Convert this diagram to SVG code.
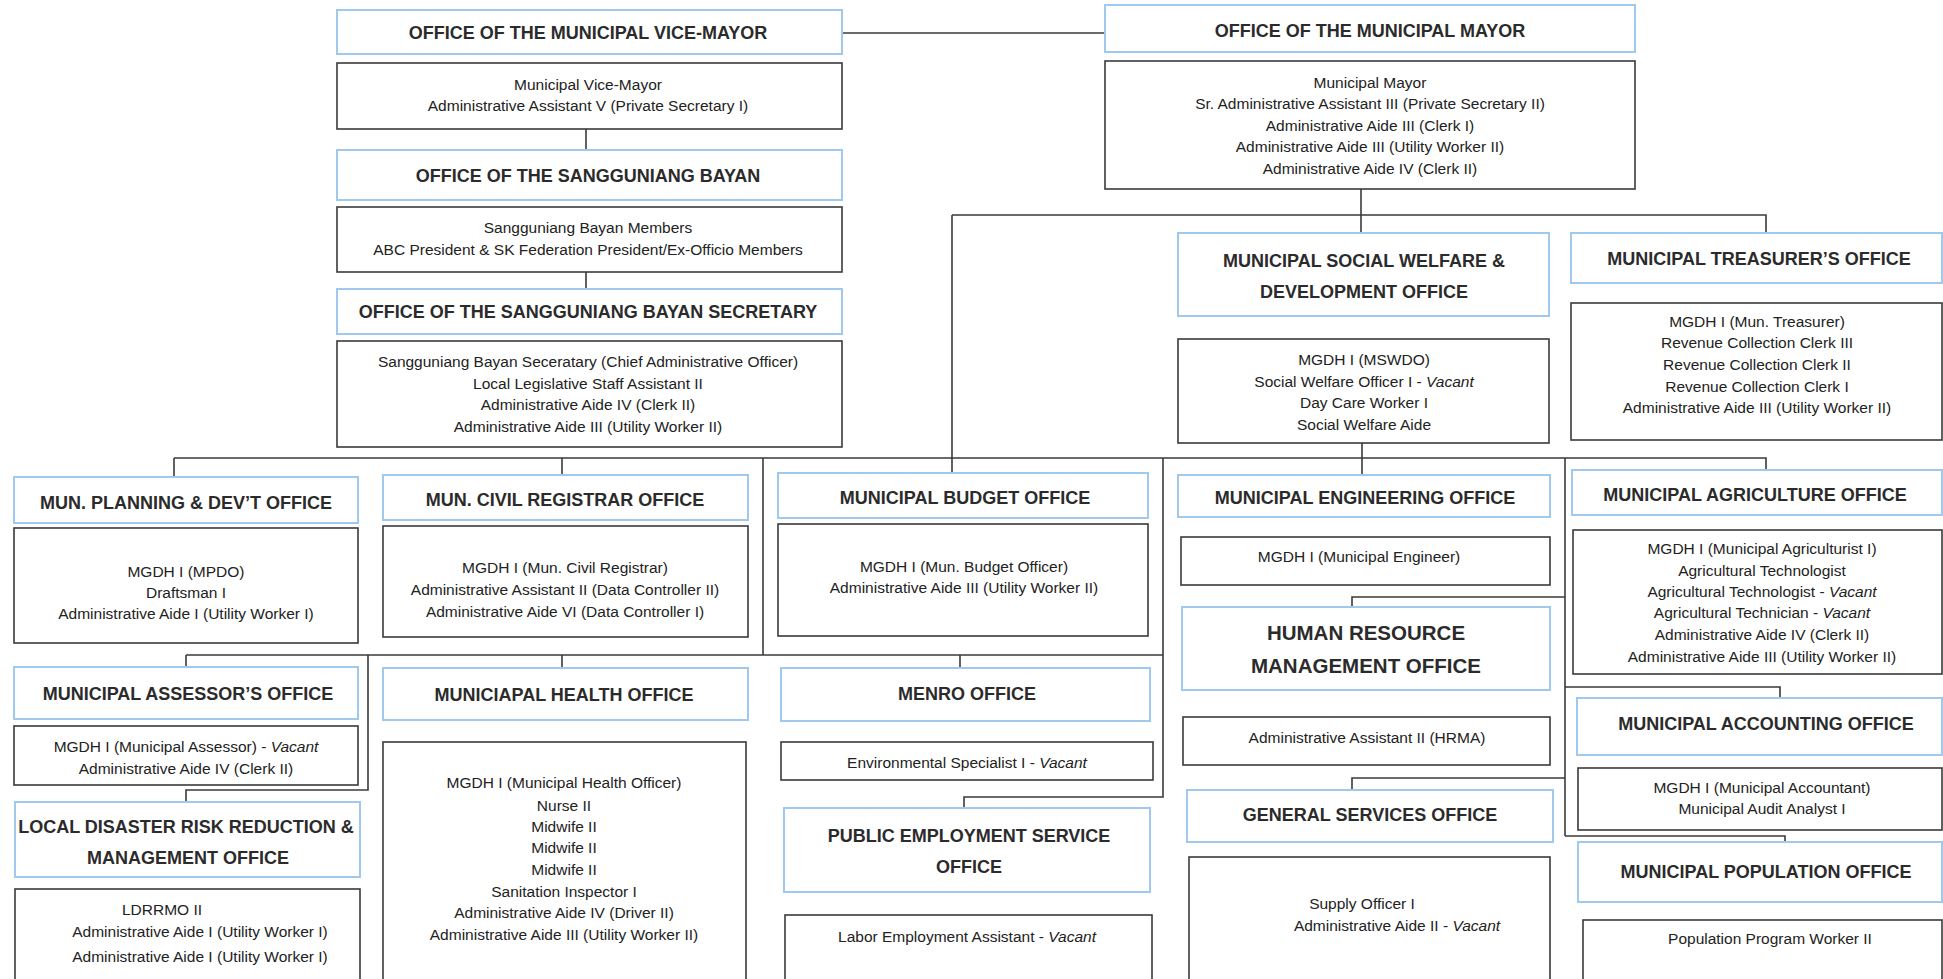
<svg xmlns="http://www.w3.org/2000/svg" width="1943" height="979" viewBox="0 0 1943 979">
<style>
.hd{fill:#fff;stroke:#9fc9ef;stroke-width:2}
.bd{fill:#fff;stroke:#3a3a3a;stroke-width:1.6}
.ht{font-family:"Liberation Sans",Arial,sans-serif;font-weight:bold;font-size:18px;fill:#2b2b2b;text-anchor:middle}
.hl{font-size:20.5px}
.bt{font-family:"Liberation Sans",Arial,sans-serif;font-size:15.5px;fill:#222;text-anchor:middle}
.v{font-style:italic}
.conn{fill:none;stroke:#3a3a3a;stroke-width:1.6}
</style>
<rect width="1943" height="979" fill="#fff"/>
<g id="connectors" class="conn">
<path d="M842 33H1105"/>
<path d="M586 129V150"/>
<path d="M586 272V289"/>
<path d="M1361 189V233"/>
<path d="M952 215H1766V233"/>
<path d="M952 215V473"/>
<path d="M174 458H1766V470"/>
<path d="M174 458V477"/>
<path d="M562 458V475"/>
<path d="M1362 443V475"/>
<path d="M763 458V655"/>
<path d="M186 655H1163"/>
<path d="M186 655V667"/>
<path d="M562 655V668"/>
<path d="M960 655V668"/>
<path d="M368 655V790H186V802"/>
<path d="M1163 458V797H964V808"/>
<path d="M1565 458V836"/>
<path d="M1565 597H1352V607"/>
<path d="M1565 778H1352V790"/>
<path d="M1565 687H1780V698"/>
<path d="M1565 836H1785V842"/>
</g>
<g id="vice-mayor-office">
<rect class="hd" x="337" y="10" width="505" height="44"/>
<text class="ht" x="588" y="39">OFFICE OF THE MUNICIPAL VICE-MAYOR</text>
</g>
<g id="vice-mayor-staff">
<rect class="bd" x="337" y="63" width="505" height="66"/>
<text class="bt" x="588" y="90">Municipal Vice-Mayor</text>
<text class="bt" x="588" y="111">Administrative Assistant V (Private Secretary I)</text>
</g>
<g id="sb-office">
<rect class="hd" x="337" y="150" width="505" height="50"/>
<text class="ht" x="588" y="182">OFFICE OF THE SANGGUNIANG BAYAN</text>
</g>
<g id="sb-staff">
<rect class="bd" x="337" y="207" width="505" height="65"/>
<text class="bt" x="588" y="233">Sangguniang Bayan Members</text>
<text class="bt" x="588" y="255">ABC President &amp; SK Federation President/Ex-Officio Members</text>
</g>
<g id="sbs-office">
<rect class="hd" x="337" y="289" width="505" height="45"/>
<text class="ht" x="588" y="318">OFFICE OF THE SANGGUNIANG BAYAN SECRETARY</text>
</g>
<g id="sbs-staff">
<rect class="bd" x="337" y="341" width="505" height="106"/>
<text class="bt" x="588" y="367">Sangguniang Bayan Seceratary (Chief Administrative Officer)</text>
<text class="bt" x="588" y="389">Local Legislative Staff Assistant II</text>
<text class="bt" x="588" y="410">Administrative Aide IV (Clerk II)</text>
<text class="bt" x="588" y="432">Administrative Aide III (Utility Worker II)</text>
</g>
<g id="mayor-office">
<rect class="hd" x="1105" y="5" width="530" height="47"/>
<text class="ht" x="1370" y="37">OFFICE OF THE MUNICIPAL MAYOR</text>
</g>
<g id="mayor-staff">
<rect class="bd" x="1105" y="61" width="530" height="128"/>
<text class="bt" x="1370" y="88">Municipal Mayor</text>
<text class="bt" x="1370" y="109">Sr. Administrative Assistant III (Private Secretary II)</text>
<text class="bt" x="1370" y="131">Administrative Aide III (Clerk I)</text>
<text class="bt" x="1370" y="152">Administrative Aide III (Utility Worker II)</text>
<text class="bt" x="1370" y="174">Administrative Aide IV (Clerk II)</text>
</g>
<g id="mswdo-office">
<rect class="hd" x="1178" y="233" width="371" height="83"/>
<text class="ht" x="1364" y="267">MUNICIPAL SOCIAL WELFARE &amp;</text>
<text class="ht" x="1364" y="298">DEVELOPMENT OFFICE</text>
</g>
<g id="mswdo-staff">
<rect class="bd" x="1178" y="339" width="371" height="104"/>
<text class="bt" x="1364" y="365">MGDH I (MSWDO)</text>
<text class="bt" x="1364" y="387">Social Welfare Officer I - <tspan class="v">Vacant</tspan></text>
<text class="bt" x="1364" y="408">Day Care Worker I</text>
<text class="bt" x="1364" y="430">Social Welfare Aide</text>
</g>
<g id="treasurer-office">
<rect class="hd" x="1571" y="233" width="371" height="50"/>
<text class="ht" x="1759" y="265">MUNICIPAL TREASURER’S OFFICE</text>
</g>
<g id="treasurer-staff">
<rect class="bd" x="1571" y="303" width="371" height="137"/>
<text class="bt" x="1757" y="327">MGDH I (Mun. Treasurer)</text>
<text class="bt" x="1757" y="348">Revenue Collection Clerk III</text>
<text class="bt" x="1757" y="370">Revenue Collection Clerk II</text>
<text class="bt" x="1757" y="392">Revenue Collection Clerk I</text>
<text class="bt" x="1757" y="413">Administrative Aide III (Utility Worker II)</text>
</g>
<g id="mpdo-office">
<rect class="hd" x="14" y="477" width="344" height="46"/>
<text class="ht" x="186" y="509">MUN. PLANNING &amp; DEV’T OFFICE</text>
</g>
<g id="mpdo-staff">
<rect class="bd" x="14" y="528" width="344" height="115"/>
<text class="bt" x="186" y="577">MGDH I (MPDO)</text>
<text class="bt" x="186" y="598">Draftsman I</text>
<text class="bt" x="186" y="619">Administrative Aide I (Utility Worker I)</text>
</g>
<g id="civil-registrar-office">
<rect class="hd" x="383" y="475" width="365" height="45"/>
<text class="ht" x="565" y="506">MUN. CIVIL REGISTRAR OFFICE</text>
</g>
<g id="civil-registrar-staff">
<rect class="bd" x="383" y="526" width="365" height="111"/>
<text class="bt" x="565" y="573">MGDH I (Mun. Civil Registrar)</text>
<text class="bt" x="565" y="595">Administrative Assistant II (Data Controller II)</text>
<text class="bt" x="565" y="617">Administrative Aide VI (Data Controller I)</text>
</g>
<g id="budget-office">
<rect class="hd" x="778" y="473" width="370" height="45"/>
<text class="ht" x="965" y="504">MUNICIPAL BUDGET OFFICE</text>
</g>
<g id="budget-staff">
<rect class="bd" x="778" y="524" width="370" height="112"/>
<text class="bt" x="964" y="572">MGDH I (Mun. Budget Officer)</text>
<text class="bt" x="964" y="593">Administrative Aide III (Utility Worker II)</text>
</g>
<g id="engineering-office">
<rect class="hd" x="1178" y="475" width="372" height="42"/>
<text class="ht" x="1365" y="504">MUNICIPAL ENGINEERING  OFFICE</text>
</g>
<g id="engineering-staff">
<rect class="bd" x="1181" y="537" width="369" height="48"/>
<text class="bt" x="1359" y="562">MGDH I (Municipal Engineer)</text>
</g>
<g id="agriculture-office">
<rect class="hd" x="1572" y="470" width="370" height="45"/>
<text class="ht" x="1755" y="501">MUNICIPAL AGRICULTURE OFFICE</text>
</g>
<g id="agriculture-staff">
<rect class="bd" x="1573" y="530" width="369" height="144"/>
<text class="bt" x="1762" y="554">MGDH I (Municipal Agriculturist I)</text>
<text class="bt" x="1762" y="576">Agricultural Technologist</text>
<text class="bt" x="1762" y="597">Agricultural Technologist - <tspan class="v">Vacant</tspan></text>
<text class="bt" x="1762" y="618">Agricultural Technician - <tspan class="v">Vacant</tspan></text>
<text class="bt" x="1762" y="640">Administrative Aide IV (Clerk II)</text>
<text class="bt" x="1762" y="662">Administrative Aide III (Utility Worker II)</text>
</g>
<g id="assessor-office">
<rect class="hd" x="14" y="667" width="344" height="52"/>
<text class="ht" x="188" y="700">MUNICIPAL ASSESSOR’S OFFICE</text>
</g>
<g id="assessor-staff">
<rect class="bd" x="14" y="726" width="344" height="59"/>
<text class="bt" x="186" y="752">MGDH I (Municipal Assessor) - <tspan class="v">Vacant</tspan></text>
<text class="bt" x="186" y="774">Administrative Aide IV (Clerk II)</text>
</g>
<g id="health-office">
<rect class="hd" x="383" y="668" width="365" height="52"/>
<text class="ht" x="564" y="701">MUNICIAPAL HEALTH OFFICE</text>
</g>
<g id="health-staff">
<rect class="bd" x="383" y="742" width="363" height="242"/>
<text class="bt" x="564" y="788">MGDH I (Municipal Health Officer)</text>
<text class="bt" x="564" y="811">Nurse II</text>
<text class="bt" x="564" y="832">Midwife II</text>
<text class="bt" x="564" y="853">Midwife II</text>
<text class="bt" x="564" y="875">Midwife II</text>
<text class="bt" x="564" y="897">Sanitation Inspector I</text>
<text class="bt" x="564" y="918">Administrative Aide IV (Driver II)</text>
<text class="bt" x="564" y="940">Administrative Aide III (Utility Worker II)</text>
</g>
<g id="menro-office">
<rect class="hd" x="781" y="668" width="369" height="53"/>
<text class="ht" x="967" y="700">MENRO OFFICE</text>
</g>
<g id="menro-staff">
<rect class="bd" x="781" y="742" width="372" height="38"/>
<text class="bt" x="967" y="768">Environmental Specialist I - <tspan class="v">Vacant</tspan></text>
</g>
<g id="hrmo-office">
<rect class="hd" x="1182" y="607" width="368" height="83"/>
<text class="ht hl" x="1366" y="640">HUMAN RESOURCE</text>
<text class="ht hl" x="1366" y="673">MANAGEMENT OFFICE</text>
</g>
<g id="hrmo-staff">
<rect class="bd" x="1183" y="717" width="367" height="48"/>
<text class="bt" x="1367" y="743">Administrative Assistant II (HRMA)</text>
</g>
<g id="accounting-office">
<rect class="hd" x="1577" y="698" width="365" height="57"/>
<text class="ht" x="1766" y="730">MUNICIPAL ACCOUNTING OFFICE</text>
</g>
<g id="accounting-staff">
<rect class="bd" x="1578" y="768" width="364" height="62"/>
<text class="bt" x="1762" y="793">MGDH I (Municipal Accountant)</text>
<text class="bt" x="1762" y="814">Municipal Audit Analyst I</text>
</g>
<g id="ldrrmo-office">
<rect class="hd" x="15" y="802" width="345" height="75"/>
<text class="ht" x="186" y="833">LOCAL DISASTER RISK REDUCTION &amp;</text>
<text class="ht" x="188" y="864">MANAGEMENT OFFICE</text>
</g>
<g id="ldrrmo-staff">
<rect class="bd" x="15" y="889" width="345" height="95"/>
<text class="bt" x="162" y="915">LDRRMO II</text>
<text class="bt" x="200" y="937">Administrative Aide I (Utility Worker I)</text>
<text class="bt" x="200" y="962">Administrative Aide I (Utility Worker I)</text>
</g>
<g id="peso-office">
<rect class="hd" x="784" y="808" width="366" height="84"/>
<text class="ht" x="969" y="842">PUBLIC EMPLOYMENT SERVICE</text>
<text class="ht" x="969" y="873">OFFICE</text>
</g>
<g id="peso-staff">
<rect class="bd" x="785" y="915" width="367" height="69"/>
<text class="bt" x="967" y="942">Labor Employment Assistant - <tspan class="v">Vacant</tspan></text>
</g>
<g id="gso-office">
<rect class="hd" x="1187" y="790" width="366" height="52"/>
<text class="ht" x="1370" y="821">GENERAL SERVICES OFFICE</text>
</g>
<g id="gso-staff">
<rect class="bd" x="1189" y="857" width="361" height="127"/>
<text class="bt" x="1362" y="909">Supply Officer I</text>
<text class="bt" x="1397" y="931">Administrative Aide II - <tspan class="v">Vacant</tspan></text>
</g>
<g id="population-office">
<rect class="hd" x="1578" y="842" width="364" height="60"/>
<text class="ht" x="1766" y="878">MUNICIPAL POPULATION OFFICE</text>
</g>
<g id="population-staff">
<rect class="bd" x="1583" y="920" width="359" height="64"/>
<text class="bt" x="1770" y="944">Population Program Worker II</text>
</g>
</svg>
